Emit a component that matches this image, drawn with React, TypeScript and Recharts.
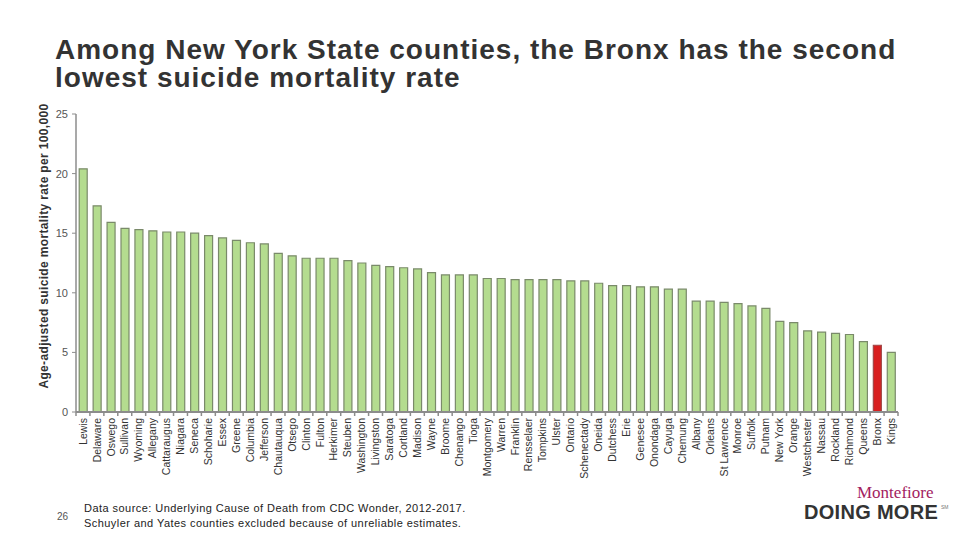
import { BarChart, Bar, XAxis, YAxis, Cell } from "recharts";

// NY counties, age-adjusted suicide mortality per 100,000 (CDC Wonder 2012-2017)
const counties = [
  "Lewis", "Delaware", "Oswego", "Sullivan", "Wyoming", "Allegany", "Cattaraugus",
  "Niagara", "Seneca", "Schoharie", "Essex", "Greene", "Columbia", "Jefferson",
  "Chautauqua", "Otsego", "Clinton", "Fulton", "Herkimer", "Steuben", "Washington",
  "Livingston", "Saratoga", "Cortland", "Madison", "Wayne", "Broome", "Chenango",
  "Tioga", "Montgomery", "Warren", "Franklin", "Rensselaer", "Tompkins", "Ulster",
  "Ontario", "Schenectady", "Oneida", "Dutchess", "Erie", "Genesee", "Onondaga",
  "Cayuga", "Chemung", "Albany", "Orleans", "St Lawrence", "Monroe", "Suffolk",
  "Putnam", "New York", "Orange", "Westchester", "Nassau", "Rockland", "Richmond",
  "Queens", "Bronx", "Kings",
];

const rates = [
  20.4, 17.3, 15.9, 15.4, 15.3, 15.2, 15.1,
  15.1, 15.0, 14.8, 14.6, 14.4, 14.2, 14.1,
  13.3, 13.1, 12.9, 12.9, 12.9, 12.7, 12.5,
  12.3, 12.2, 12.1, 12.0, 11.7, 11.5, 11.5,
  11.5, 11.2, 11.2, 11.1, 11.1, 11.1, 11.1,
  11.0, 11.0, 10.8, 10.6, 10.6, 10.5, 10.5,
  10.3, 10.3, 9.3, 9.3, 9.2, 9.1, 8.9,
  8.7, 7.6, 7.5, 6.8, 6.7, 6.6, 6.5,
  5.9, 5.6, 5.0,
];

const yTicks = [0, 5, 10, 15, 20, 25];
const highlight = "Bronx";

const data = counties.map((name, i) => ({ name, rate: rates[i] }));

const PLOT_LEFT = 76;
const PLOT_RIGHT = 898;
const step = (PLOT_RIGHT - PLOT_LEFT) / counties.length;

const font = "Arial, 'Liberation Sans', sans-serif";

function CountyTick(props: any) {
  const { x, y, payload, index } = props;
  return (
    <g>
      <line x1={x - step / 2} x2={x - step / 2} y1={y} y2={y + 4} stroke="#8c8c8c" strokeWidth={1.5} />
      {index === counties.length - 1 && (
        <line x1={x + step / 2} x2={x + step / 2} y1={y} y2={y + 4} stroke="#8c8c8c" strokeWidth={1.5} />
      )}
      <text
        transform={`translate(${x},${y + 6}) rotate(-90)`}
        textAnchor="end"
        dy="0.35em"
        fontSize={10.5}
        fontFamily={font}
        fill="#333"
      >
        {payload.value}
      </text>
    </g>
  );
}

export default function App() {
  return (
    <div style={{ position: "absolute", left: 0, top: 0, width: 960, height: 540, background: "#fff", fontFamily: font }}>
      <div
        style={{
          position: "absolute",
          left: 55,
          top: 36,
          fontSize: 28,
          lineHeight: "28px",
          letterSpacing: 1,
          fontWeight: "bold",
          color: "#333",
          whiteSpace: "nowrap",
        }}
      >
        Among New York State counties, the Bronx has the second
        <br />
        lowest suicide mortality rate
      </div>

      <div
        style={{
          position: "absolute",
          left: 44,
          top: 246,
          transform: "translate(-50%, -50%) rotate(-90deg)",
          whiteSpace: "nowrap",
          fontSize: 12,
          letterSpacing: 0.35,
          fontWeight: "bold",
          color: "#333",
        }}
      >
        Age-adjusted suicide mortality rate per 100,000
      </div>

      <div style={{ position: "absolute", left: 0, top: 0 }}>
        <BarChart
          width={960}
          height={540}
          data={data}
          margin={{ top: 114, right: 960 - PLOT_RIGHT, bottom: 28, left: PLOT_LEFT - 40 }}
          barCategoryGap="23%"
        >
          <XAxis
            dataKey="name"
            interval={0}
            height={100}
            tickSize={0}
            tickMargin={0}
            tickLine={false}
            axisLine={{ stroke: "#8c8c8c", strokeWidth: 2 }}
            tick={<CountyTick />}
          />
          <YAxis
            width={40}
            domain={[0, 25]}
            ticks={yTicks}
            interval={0}
            tickSize={4}
            tickMargin={4}
            axisLine={{ stroke: "#8c8c8c", strokeWidth: 1.5 }}
            tickLine={{ stroke: "#8c8c8c" }}
            tick={{ fontSize: 11, fill: "#555", fontFamily: font }}
          />
          <Bar dataKey="rate" isAnimationActive={false} strokeWidth={1.2}>
            {data.map((d) => (
              <Cell
                key={d.name}
                fill={d.name === highlight ? "#d81f1f" : "#b4dc8f"}
                stroke={d.name === highlight ? "#a04848" : "#7a8a6a"}
              />
            ))}
          </Bar>
        </BarChart>
      </div>

      <div style={{ position: "absolute", left: 57, top: 511, fontSize: 10, color: "#555" }}>26</div>
      <div
        style={{
          position: "absolute",
          left: 84,
          top: 501,
          fontSize: 11,
          lineHeight: "15px",
          letterSpacing: 0.45,
          color: "#222",
          whiteSpace: "nowrap",
        }}
      >
        Data source: Underlying Cause of Death from CDC Wonder, 2012-2017.
        <br />
        Schuyler and Yates counties excluded because of unreliable estimates.
      </div>

      <div
        style={{
          position: "absolute",
          left: 857,
          top: 485,
          fontFamily: "'Liberation Serif', 'DejaVu Serif', serif",
          fontSize: 17,
          lineHeight: "16px",
          color: "#a3225f",
        }}
      >
        Montefiore
      </div>
      <div
        style={{
          position: "absolute",
          left: 804,
          top: 503,
          fontSize: 20,
          lineHeight: "19px",
          fontWeight: "bold",
          color: "#333",
          letterSpacing: 0.3,
          whiteSpace: "nowrap",
        }}
      >
        DOING MORE
      </div>
      <div style={{ position: "absolute", left: 941, top: 505, fontSize: 5, lineHeight: "5px", color: "#777" }}>SM</div>
    </div>
  );
}
